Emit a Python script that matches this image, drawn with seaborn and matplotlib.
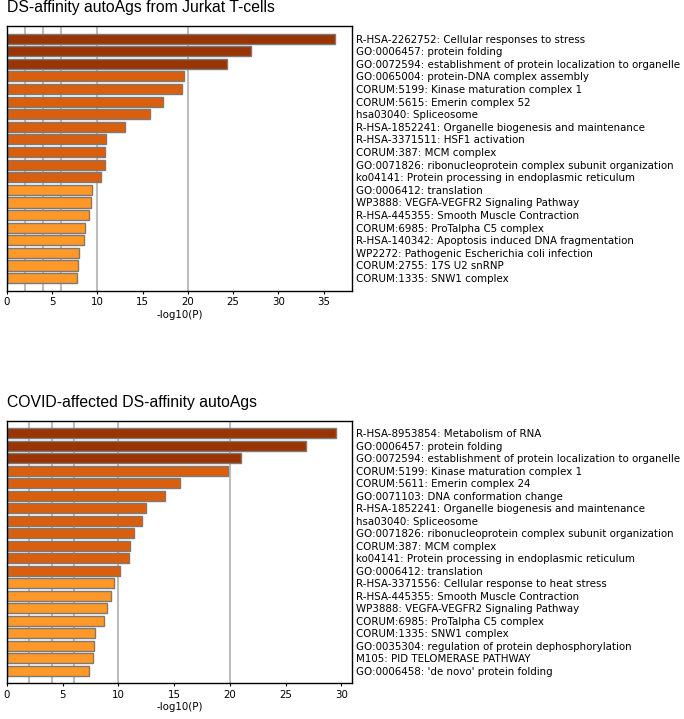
import pandas as pd
import matplotlib
matplotlib.use("Agg")
import matplotlib.pyplot as plt
from matplotlib.ticker import MultipleLocator
import seaborn as sns

# Panel 1: DS-affinity autoAgs from Jurkat T-cells
jurkat_terms = [
    "R-HSA-2262752: Cellular responses to stress",
    "GO:0006457: protein folding",
    "GO:0072594: establishment of protein localization to organelle",
    "GO:0065004: protein-DNA complex assembly",
    "CORUM:5199: Kinase maturation complex 1",
    "CORUM:5615: Emerin complex 52",
    "hsa03040: Spliceosome",
    "R-HSA-1852241: Organelle biogenesis and maintenance",
    "R-HSA-3371511: HSF1 activation",
    "CORUM:387: MCM complex",
    "GO:0071826: ribonucleoprotein complex subunit organization",
    "ko04141: Protein processing in endoplasmic reticulum",
    "GO:0006412: translation",
    "WP3888: VEGFA-VEGFR2 Signaling Pathway",
    "R-HSA-445355: Smooth Muscle Contraction",
    "CORUM:6985: ProTalpha C5 complex",
    "R-HSA-140342: Apoptosis induced DNA fragmentation",
    "WP2272: Pathogenic Escherichia coli infection",
    "CORUM:2755: 17S U2 snRNP",
    "CORUM:1335: SNW1 complex",
]
jurkat_logp = [36.3, 27.0, 24.3, 19.6, 19.4, 17.2, 15.8, 13.0, 11.0, 10.8,
               10.8, 10.4, 9.4, 9.3, 9.1, 8.6, 8.5, 8.0, 7.9, 7.7]

# Panel 2: COVID-affected DS-affinity autoAgs
covid_terms = [
    "R-HSA-8953854: Metabolism of RNA",
    "GO:0006457: protein folding",
    "GO:0072594: establishment of protein localization to organelle",
    "CORUM:5199: Kinase maturation complex 1",
    "CORUM:5611: Emerin complex 24",
    "GO:0071103: DNA conformation change",
    "R-HSA-1852241: Organelle biogenesis and maintenance",
    "hsa03040: Spliceosome",
    "GO:0071826: ribonucleoprotein complex subunit organization",
    "CORUM:387: MCM complex",
    "ko04141: Protein processing in endoplasmic reticulum",
    "GO:0006412: translation",
    "R-HSA-3371556: Cellular response to heat stress",
    "R-HSA-445355: Smooth Muscle Contraction",
    "WP3888: VEGFA-VEGFR2 Signaling Pathway",
    "CORUM:6985: ProTalpha C5 complex",
    "CORUM:1335: SNW1 complex",
    "GO:0035304: regulation of protein dephosphorylation",
    "M105: PID TELOMERASE PATHWAY",
    "GO:0006458: 'de novo' protein folding",
]
covid_logp = [29.5, 26.8, 21.0, 19.8, 15.5, 14.2, 12.5, 12.1, 11.4, 11.0,
              10.9, 10.1, 9.6, 9.3, 9.0, 8.7, 7.9, 7.8, 7.7, 7.4]

grid_lines = [2, 4, 6, 10, 20]
tier_colors = {"high": "#993404", "mid": "#d95f0e", "low": "#fe9929"}


def tier(v):
    if v > 20:
        return "high"
    if v > 10:
        return "mid"
    return "low"


def draw_panel(ax, terms, values, title):
    df = pd.DataFrame({"term": terms, "logp": values})
    df["tier"] = df["logp"].apply(tier)
    for g in grid_lines:
        ax.axvline(g, color="#bdbdbd", lw=1.5, zorder=0)
    sns.barplot(data=df, x="logp", y="term", hue="tier", palette=tier_colors,
                dodge=False, legend=False, orient="h", width=0.8, saturation=1,
                edgecolor="#7a7a7a", linewidth=1, ax=ax, zorder=2)
    ax.set_xlim(0, max(values) * 1.05)
    ax.set_ylim(len(terms), -1)
    ax.xaxis.set_major_locator(MultipleLocator(5))
    ax.yaxis.tick_right()
    ax.tick_params(axis="y", length=0, pad=3, labelsize=7.4, labelcolor="black")
    ax.tick_params(axis="x", length=2.5, width=0.8, pad=2, labelsize=7.4,
                   color="black", labelcolor="black")
    for lab in ax.get_yticklabels():
        lab.set_horizontalalignment("left")
    ax.set_ylabel("")
    ax.set_xlabel("-log10(P)", fontsize=7.4, labelpad=2, color="black")
    for s in ax.spines.values():
        s.set_visible(True)
        s.set_color("black")
        s.set_linewidth(1)
    ax.set_title(title, loc="left", fontsize=11.3, pad=10, color="black",
                 family=["Liberation Sans", "DejaVu Sans"])


sns.set_style("ticks")
plt.rcParams["font.family"] = ["DejaVu Sans"]

W, H = 684, 719
fig = plt.figure(figsize=(W / 100, H / 100), dpi=100)
ax1 = fig.add_axes([7 / W, 1 - 290.7 / H, (351.7 - 7) / W, (290.7 - 26) / H])
ax2 = fig.add_axes([7 / W, 1 - 683.3 / H, (352.3 - 7) / W, (683.3 - 420.7) / H])

draw_panel(ax1, jurkat_terms, jurkat_logp, "DS-affinity autoAgs from Jurkat T-cells")
draw_panel(ax2, covid_terms, covid_logp, "COVID-affected DS-affinity autoAgs")

fig.savefig("out.png", dpi=100)
